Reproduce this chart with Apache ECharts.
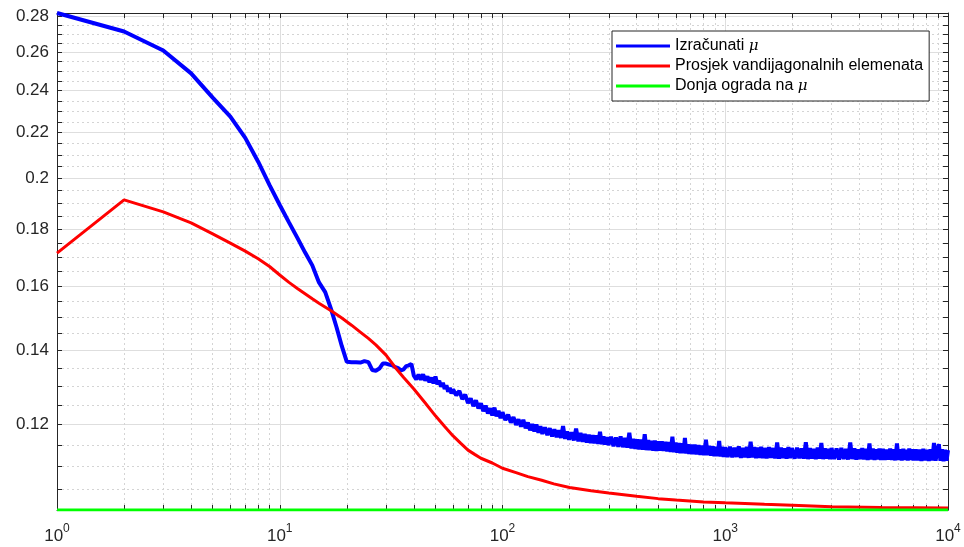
<!DOCTYPE html>
<html>
<head>
<meta charset="utf-8">
<script src="https://cdn.jsdelivr.net/npm/echarts@6/dist/echarts.min.js"></script>
<style>
html,body{margin:0;padding:0;background:#ffffff;}
#chart{width:964px;height:547px;}
</style>
</head>
<body>
<div id="chart"></div>
<script>
// ---------------- data ----------------
const seriesNames = ['Izračunati μ', 'Prosjek vandijagonalnih elemenata', 'Donja ograda na μ'];

const blueX = [
  1,2,3,4,5,6,7,8,9,10,11,12,13,14,15,16,17,18,19,
  20,21,22,23,24,25,26,27,28,29,30,31,32,33,34,35,36,37,38,39,40,
  41,42,43,44,45,46,47,48,49,50,51,52,53,54,55,56,57,58,59,60,
  62,64,66,68,70,72,74,76,78,80,82,84,86,88,90,92,94,96,98,100,
  103,106,109,112,115,118,121,124,127,130,133,136,139,142,145,148,
  151,155,159,163,167,171,175,179,183,187,191,195,199,
  204,209,214,219,224,229,234,239,244,249,254,259,264,269,274,279,284,289,294,299,
  307,315,323,331,339,347,355,363,371,379,387,395,403,411,419,427,435,443,451,459,467,475,483,491,499,
  509,519,529,539,549,559,569,579,589,599,609,619,629,639,649,659,669,679,689,699,
  714,729,744,759,774,789,804,819,834,849,864,879,894,909,924,939,954,969,984,999,
  1025,1050,1075,1100,1125,1150,1175,1200,1225,1250,1275,1300,1325,1350,1375,1400,1425,1450,1475,1500,
  1535,1570,1605,1640,1675,1710,1745,1780,1815,1850,1885,1920,1955,1990,
  2050,2100,2150,2200,2250,2300,2350,2400,2450,2500,2550,2600,2650,2700,2750,2800,2850,2900,2950,3000,
  3080,3160,3240,3320,3400,3480,3560,3640,3720,3800,3880,3960,4040,4120,4200,4280,4360,4440,4520,4600,4680,4760,4840,4920,5000,
  5100,5200,5300,5400,5500,5600,5700,5800,5900,6000,6100,6200,6300,6400,6500,6600,6700,6800,6900,7000,
  7150,7300,7450,7600,7750,7900,8050,8200,8350,8500,8650,8800,8950,9100,9250,9400,9550,9700,9850,10000
];
const blueY = [
  0.2820,0.2714,0.2609,0.2488,0.2366,0.2274,0.2176,0.2071,0.1973,0.1893,0.1826,0.1768,0.1715,0.1670,0.1612,0.1580,0.1525,0.1468,0.1412,
  0.1367,0.1366,0.1366,0.1365,0.1369,0.1366,0.1344,0.1342,0.1348,0.1362,0.1362,0.1359,0.1357,0.1352,0.1349,0.1343,0.1346,0.1355,0.1357,0.1361,0.1328,
  0.1318,0.1331,0.1317,0.1332,0.1315,0.1326,0.1310,0.1323,0.1307,0.1326,0.1305,0.1314,0.1298,0.1309,0.1292,0.1302,0.1285,0.1295,0.1280,0.1291,
  0.1275,0.1287,0.1265,0.1277,0.1255,0.1267,0.1247,0.1262,0.1241,0.1254,0.1234,0.1248,0.1228,0.1241,0.1223,0.1243,0.1221,0.1235,0.1216,0.1231,
  0.1211,0.1225,0.1205,0.1219,0.1199,0.1213,0.1195,0.1212,0.1191,0.1205,0.1186,0.1201,0.1183,0.1200,0.1180,0.1196,
  0.1177,0.1193,0.1174,0.1191,0.1171,0.1188,0.1169,0.1186,0.1167,0.1196,0.1165,0.1183,0.1163,
  0.1181,0.1161,0.1190,0.1159,0.1179,0.1158,0.1177,0.1156,0.1175,0.1155,0.1174,0.1154,0.1173,0.1153,0.1182,0.1152,0.1171,0.1151,0.1169,0.1150,
  0.1170,0.1147,0.1168,0.1146,0.1171,0.1145,0.1167,0.1144,0.1180,0.1142,0.1165,0.1141,0.1164,0.1140,0.1163,0.1139,0.1176,0.1138,0.1162,0.1138,0.1160,0.1137,0.1161,0.1136,0.1159,
  0.1137,0.1159,0.1136,0.1158,0.1135,0.1157,0.1134,0.1170,0.1133,0.1156,0.1132,0.1155,0.1131,0.1154,0.1131,0.1167,0.1130,0.1152,0.1129,0.1151,
  0.1129,0.1151,0.1128,0.1150,0.1127,0.1149,0.1126,0.1163,0.1126,0.1148,0.1125,0.1147,0.1124,0.1146,0.1124,0.1160,0.1123,0.1146,0.1122,0.1145,
  0.1122,0.1146,0.1121,0.1144,0.1122,0.1147,0.1120,0.1143,0.1121,0.1146,0.1120,0.1158,0.1121,0.1145,0.1119,0.1144,0.1120,0.1146,0.1119,0.1143,
  0.1119,0.1145,0.1120,0.1143,0.1119,0.1156,0.1118,0.1144,0.1119,0.1142,0.1118,0.1145,0.1119,0.1143,
  0.1118,0.1144,0.1119,0.1142,0.1118,0.1157,0.1117,0.1143,0.1118,0.1141,0.1117,0.1144,0.1118,0.1155,0.1117,0.1142,0.1118,0.1141,0.1117,0.1143,
  0.1117,0.1142,0.1116,0.1143,0.1117,0.1141,0.1116,0.1156,0.1117,0.1142,0.1116,0.1140,0.1117,0.1143,0.1116,0.1141,0.1115,0.1154,0.1116,0.1142,0.1115,0.1140,0.1116,0.1142,0.1115,
  0.1141,0.1115,0.1139,0.1116,0.1142,0.1115,0.1140,0.1114,0.1154,0.1115,0.1140,0.1114,0.1141,0.1115,0.1139,0.1114,0.1142,0.1115,0.1140,0.1114,
  0.1140,0.1114,0.1139,0.1113,0.1141,0.1114,0.1139,0.1113,0.1140,0.1114,0.1155,0.1113,0.1139,0.1152,0.1113,0.1140,0.1112,0.1139,0.1113,0.1138
];

const redX = [1,2,3,4,5,6,7,8,9,10,11,12,14,15,17,19,21,23,25,27,30,33,36,40,45,50,55,60,65,70,75,80,90,100,115,130,150,170,200,250,300,400,500,600,800,1000,1500,2000,3000,5000,10000];
const redY = [0.1713,0.1913,0.1866,0.1824,0.1783,0.1749,0.1720,0.1693,0.1666,0.1637,0.1612,0.1592,0.1558,0.1544,0.1520,0.1497,0.1475,0.1454,0.1435,0.1416,0.1386,0.1351,0.1323,0.1292,0.1255,0.1222,0.1195,0.1172,0.1154,0.1138,0.1128,0.1119,0.1108,0.1096,0.1086,0.1077,0.1069,0.1061,0.1053,0.1046,0.1041,0.1034,0.1029,0.1026,0.1022,0.1020,0.1017,0.1015,0.1012,0.1010,0.1009];

const greenX = [1, 10000];
const greenY = [0.1005, 0.1005];

const xMajor = [1, 10, 100, 1000, 10000];
const xLabelExp = ['0', '1', '2', '3', '4'];
const xMinor = [2,3,4,5,6,7,8,9,20,30,40,50,60,70,80,90,200,300,400,500,600,700,800,900,2000,3000,4000,5000,6000,7000,8000,9000];
const yMajor = [0.12,0.14,0.16,0.18,0.2,0.22,0.24,0.26,0.28];
const yLabels = ['0.12','0.14','0.16','0.18','0.2','0.22','0.24','0.26','0.28'];
const yMinor = [0.105,0.11,0.115,0.125,0.13,0.135,0.145,0.15,0.155,0.165,0.17,0.175,0.185,0.19,0.195,0.205,0.21,0.215,0.225,0.23,0.235,0.245,0.25,0.255,0.265,0.27,0.275];

const X_MIN = 1, X_MAX = 10000, Y_MIN = 0.1005, Y_MAX = 0.282;

// ---------------- chart ----------------
const FONT = "'Liberation Sans', Arial, Helvetica, sans-serif";
const AX = '#262626';
const xAll = xMajor.concat(xMinor);
const yAll = yMajor.concat(yMinor);
const pairs = (xs, ys) => xs.slice(0, Math.min(xs.length, ys.length)).map((x, i) => [x, ys[i]]);

function xAx(extra) {
  return Object.assign({
    type: 'log', logBase: 10, min: X_MIN, max: X_MAX, gridIndex: 0,
    axisLine: {show: false, onZero: false},
    axisTick: {show: false},
    axisLabel: {show: false},
    splitLine: {show: false},
    minorTick: {show: false}, minorSplitLine: {show: false}
  }, extra);
}
function yAx(extra) {
  return Object.assign({
    type: 'log', logBase: 10, min: Y_MIN, max: Y_MAX, gridIndex: 0,
    axisLine: {show: false, onZero: false},
    axisTick: {show: false},
    axisLabel: {show: false},
    splitLine: {show: false},
    minorTick: {show: false}, minorSplitLine: {show: false}
  }, extra);
}

const chart = echarts.init(document.getElementById('chart'), null, {renderer: 'canvas'});
const option = {
  animation: false,
  backgroundColor: '#ffffff',
  grid: {left: 57, right: 16, top: 13, bottom: 37, containLabel: false, outerBoundsMode: 'none'},
  xAxis: [
    xAx({
      position: 'bottom',
      axisLine: {show: true, onZero: false, lineStyle: {color: AX, width: 1}},
      axisTick: {show: true, inside: true, length: 5, customValues: xAll, lineStyle: {color: AX, width: 1}},
      axisLabel: {
        show: true, customValues: xMajor, margin: 13,
        formatter: function (v) {
          const i = xMajor.indexOf(v);
          const e = i >= 0 ? xLabelExp[i] : '';
          return '{b|10}{s|' + e + '}';
        },
        rich: {
          b: {fontFamily: FONT, fontSize: 17, color: AX, lineHeight: 22, verticalAlign: 'bottom'},
          s: {fontFamily: FONT, fontSize: 12, color: AX, lineHeight: 14, verticalAlign: 'top'}
        }
      }
    }),
    xAx({
      position: 'top',
      axisLine: {show: true, onZero: false, lineStyle: {color: AX, width: 1}},
      axisTick: {show: true, inside: true, length: 5, customValues: xAll, lineStyle: {color: AX, width: 1}}
    }),
    xAx({
      position: 'bottom',
      axisTick: {show: false, customValues: xMajor},
      splitLine: {show: true, lineStyle: {color: '#dedede', width: 1, type: 'solid'}}
    }),
    xAx({
      position: 'bottom',
      axisTick: {show: false, customValues: xMinor},
      splitLine: {show: true, lineStyle: {color: '#d4d4d4', width: 1, type: [2, 3]}}
    })
  ],
  yAxis: [
    yAx({
      position: 'left',
      axisLine: {show: true, onZero: false, lineStyle: {color: AX, width: 1}},
      axisTick: {show: true, inside: true, length: 5, customValues: yAll, lineStyle: {color: AX, width: 1}},
      axisLabel: {
        show: true, customValues: yMajor, margin: 8,
        fontFamily: FONT, fontSize: 17, color: AX,
        formatter: function (v) {
          let best = 0, bd = Infinity;
          yMajor.forEach((m, i) => { const d = Math.abs(m - v); if (d < bd) { bd = d; best = i; } });
          return yLabels[best];
        }
      }
    }),
    yAx({
      position: 'right',
      axisLine: {show: true, onZero: false, lineStyle: {color: AX, width: 1}},
      axisTick: {show: true, inside: true, length: 5, customValues: yAll, lineStyle: {color: AX, width: 1}}
    }),
    yAx({
      position: 'left',
      axisTick: {show: false, customValues: yMajor},
      splitLine: {show: true, lineStyle: {color: '#dedede', width: 1, type: 'solid'}}
    }),
    yAx({
      position: 'left',
      axisTick: {show: false, customValues: yMinor},
      splitLine: {show: true, lineStyle: {color: '#d4d4d4', width: 1, type: [2, 3]}}
    })
  ],
  legend: {
    show: true,
    orient: 'vertical',
    left: 612, top: 31,
    padding: [7, 6, 7, 4],
    itemGap: 4,
    itemWidth: 54, itemHeight: 3,
    icon: 'rect',
    selectedMode: false,
    backgroundColor: '#ffffff',
    borderColor: AX, borderWidth: 1, borderRadius: 0,
    textStyle: {
      fontFamily: FONT, fontSize: 16, color: '#000000', lineHeight: 16,
      rich: {
        m: {fontFamily: "'DejaVu Serif', 'Liberation Serif', serif", fontStyle: 'italic', fontSize: 15, color: '#000000', lineHeight: 16}
      }
    },
    formatter: function (name) { return name.replace('μ', '{m|μ}'); },
    data: seriesNames
  },
  series: [
    {
      name: seriesNames[0], type: 'line', xAxisIndex: 0, yAxisIndex: 0,
      data: pairs(blueX, blueY), showSymbol: false, symbol: 'none', silent: true,
      lineStyle: {color: '#0000ff', width: 4}, itemStyle: {color: '#0000ff'}, z: 3
    },
    {
      name: seriesNames[1], type: 'line', xAxisIndex: 0, yAxisIndex: 0,
      data: pairs(redX, redY), showSymbol: false, symbol: 'none', silent: true,
      lineStyle: {color: '#ff0000', width: 3}, itemStyle: {color: '#ff0000'}, z: 4
    },
    {
      name: seriesNames[2], type: 'line', xAxisIndex: 0, yAxisIndex: 0,
      data: pairs(greenX, greenY), showSymbol: false, symbol: 'none', silent: true,
      lineStyle: {color: '#00ff00', width: 3}, itemStyle: {color: '#00ff00'}, z: 5
    }
  ]
};
chart.setOption(option);
</script>
</body>
</html>
